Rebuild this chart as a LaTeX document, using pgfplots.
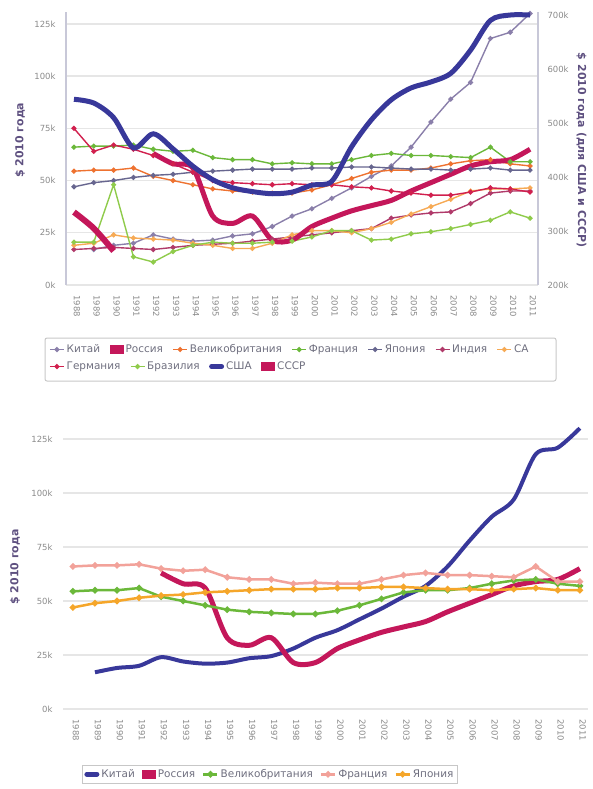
\documentclass[border=0pt]{standalone}
\usepackage{fontspec}
\setmainfont{DejaVu Sans}
\usepackage{pgfplots}
\usepackage{pgfplotstable}
\pgfplotsset{compat=1.18}

\definecolor{china}{HTML}{8A7FAA}
\definecolor{russia}{HTML}{C4175A}
\definecolor{uk}{HTML}{EE7230}
\definecolor{france}{HTML}{6BB83A}
\definecolor{japan}{HTML}{67668F}
\definecolor{india}{HTML}{B03A6A}
\definecolor{sa}{HTML}{F6AA55}
\definecolor{germany}{HTML}{D1204E}
\definecolor{brazil}{HTML}{8FCB4B}
\definecolor{usa}{HTML}{38389A}
\definecolor{pinkfr}{HTML}{F2A29A}
\definecolor{jporange}{HTML}{F5A62A}
\definecolor{gridc}{HTML}{E6E6E6}
\definecolor{axisc}{HTML}{C8C8D8}
\definecolor{labc}{HTML}{8A8A8A}
\definecolor{legc}{HTML}{6E6E7E}
\definecolor{titc}{HTML}{5E5080}

\newcommand\tickfont{\fontsize{8.5}{10}\selectfont}
\newcommand\legfont{\fontsize{10.5}{12}\selectfont}
\newcommand\labfont{\fontsize{11}{12}\selectfont\bfseries}

% values in thousands of 2010 dollars
\pgfplotstableread{
year china russia uk france japan india sa germany brazil
1988 nan nan 54.5 66 47 17 19 75 20.5
1989 17 nan 55 66.5 49 17.5 20 64 20.5
1990 19 nan 55 66.5 50 18 24 67 48
1991 20 nan 56 67 51.5 17.5 22.5 65 13.5
1992 24 63 52 65 52.5 17 22 62 11
1993 22 58 50 64 53 18 21.5 58 16
1994 21 56 48 64.5 54 19 20 54 19
1995 21.5 33 46 61 54.5 19.5 19 50 20.5
1996 23.5 29.5 45 60 55 20 17.5 49 20
1997 24.5 33 44.5 60 55.5 21 17.5 48.5 20
1998 28 21.5 44 58 55.5 22 20 48 20.5
1999 33 21.5 44 58.5 55.5 23 24 48.5 21
2000 36.5 28 45.5 58 56 24 26 48 23
2001 41.5 32 48 58 56 25 26 48 26
2002 46.5 35.5 51 60 56.5 26 25 47 26
2003 52 38 54 62 56.5 27 27 46.5 21.5
2004 57 40.5 55 63 56 32 30 45 22
2005 66 45 55 62 55.5 33.5 34 44 24.5
2006 78 49 56 62 55.5 34.5 37.5 43 25.5
2007 89 53 58 61.5 55 35 41 43 27
2008 97 57 59.5 61 55.5 39 45 44.5 29
2009 118 59 60 66 56 44 46 46.5 31
2010 121 60 58 59 55 45 46 46 35
2011 130 65 57 59 55 45 46.5 44.5 32
}\countries

\pgfplotstableread{
year usa ussr
1988 544 335
1989 537 305
1990 510 263
1991 454 nan
1992 480 nan
1993 452 nan
1994 420 nan
1995 395 nan
1996 380 nan
1997 373 nan
1998 369 nan
1999 372 nan
2000 385 nan
2001 392 nan
2002 456 nan
2003 506 nan
2004 543 nan
2005 565 nan
2006 576 nan
2007 592 nan
2008 635 nan
2009 690 nan
2010 700 nan
2011 700 nan
}\superpowers

\pgfplotsset{
  base/.style={
    scale only axis,
    major tick length=0pt,
    /pgf/number format/assume math mode=true,
    /pgf/number format/1000 sep={},
    ticklabel style={font=\tickfont, text=labc},
    xticklabel style={xshift=3bp, yshift=-7bp, rotate=-90, anchor=west},
    grid style={draw=gridc, line width=1.3bp},
    legend columns=-1,
    legend image code/.code={\draw[mark repeat=2,mark phase=2] plot coordinates {(0bp,0bp) (7bp,0bp) (14bp,0bp)};},
    /tikz/every even column/.append style={column sep=7.5bp},
  },
  thin/.style={line width=1.4bp, mark=*, mark size=1.8bp},
  block/.style={legend image code/.code={\path[fill=#1, draw=none, sharp corners] (0bp,-4.5bp) rectangle (14bp,4.5bp);}},
  blob/.style={legend image code/.code={\draw[#1, line width=5bp, line cap=round, sharp corners] (2bp,0bp) -- (12bp,0bp);}},
}

\begin{document}
\begin{tikzpicture}
\path[use as bounding box] (0bp,0bp) rectangle (593bp,-789bp);

% ---------- upper chart, left scale ----------
\begin{axis}[base,
  at={(66bp,-285bp)}, anchor=south west,
  width=472bp, height=273bp,
  xmin=1987.6, xmax=2011.4, ymin=0, ymax=130.7,
  xtick={1988,...,2011}, ytick={0,25,...,125},
  axis x line*=bottom, axis y line*=left,
  x axis line style={draw=none},
  y axis line style={draw=axisc, line width=1.5bp},
  ymajorgrids,
  yticklabel={\pgfmathprintnumber{\tick}k},
  yticklabel style={xshift=-7bp},
  ylabel={\$ 2010 года},
  ylabel style={font=\labfont, text=titc, at={(axis description cs:-0.0975,0.53)}, anchor=center},
  legend style={at={(axis description cs:-0.038,-0.207)}, anchor=north west,
    draw=none, fill=none, font=\color{legc}\legfont, inner sep=1bp},
]
\addplot[thin, china] table[x=year, y=china] {\countries};
\addlegendimage{russia, block=russia}
\addplot[thin, uk] table[x=year, y=uk] {\countries};
\addplot[thin, france] table[x=year, y=france] {\countries};
\addplot[thin, japan] table[x=year, y=japan] {\countries};
\addplot[thin, india] table[x=year, y=india] {\countries};
\addplot[thin, sa] table[x=year, y=sa] {\countries};
\addplot[thin, germany, forget plot] table[x=year, y=germany] {\countries};
\addplot[thin, brazil, forget plot] table[x=year, y=brazil] {\countries};
\addplot[russia, line width=5bp, smooth, forget plot] table[x=year, y=russia] {\countries};
\legend{Китай, Россия, Великобритания, Франция, Япония, Индия, СА}
\end{axis}

% ---------- upper chart, right scale (USA, USSR) ----------
\begin{axis}[base,
  at={(66bp,-285bp)}, anchor=south west,
  width=472bp, height=273bp,
  xmin=1987.6, xmax=2011.4, ymin=200, ymax=705.6,
  xtick=\empty, ytick={200,300,...,700},
  axis x line=none, axis y line*=right,
  y axis line style={draw=axisc, line width=1.5bp},
  yticklabel={\pgfmathprintnumber{\tick}k},
  yticklabel style={xshift=6bp},
  ylabel={\$ 2010 года (для США и СССР)},
  ylabel style={font=\labfont, text=titc, rotate=180, at={(axis description cs:1.092,0.494)}, anchor=center},
  legend style={at={(axis description cs:-0.038,-0.27)}, anchor=north west,
    draw=none, fill=none, font=\color{legc}\legfont, inner sep=1bp},
]
\addlegendimage{thin, germany}
\addlegendimage{thin, brazil}
\addplot[usa, line width=5bp, smooth, blob=usa] table[x=year, y=usa] {\superpowers};
\addplot[russia, line width=6bp, smooth, block=russia] table[x=year, y=ussr] {\superpowers};
\legend{Германия, Бразилия, США, СССР}
\end{axis}

\draw[draw=black!22, line width=1bp, rounded corners=2bp] (45bp,-338bp) rectangle (556bp,-381bp);

% ---------- lower chart ----------
\begin{axis}[base,
  at={(63bp,-709bp)}, anchor=south west,
  width=525bp, height=284bp,
  xmin=1987.55, xmax=2011.37, ymin=0, ymax=131.5,
  xtick={1988,...,2011}, ytick={0,25,...,125},
  axis x line*=bottom, axis y line*=left,
  axis line style={draw=none},
  ymajorgrids,
  yticklabel={\pgfmathprintnumber{\tick}k},
  yticklabel style={xshift=-7bp},
  ylabel={\$ 2010 года},
  ylabel style={font=\labfont, text=titc, at={(axis description cs:-0.0914,0.5)}, anchor=center},
  legend style={at={(axis description cs:0.036,-0.197)}, anchor=north west,
    draw=black!22, line width=1bp, fill=none, font=\color{legc}\legfont,
    inner sep=2bp, /tikz/every even column/.append style={column sep=5bp}},
]
\addplot[usa, line width=4bp, smooth, blob=usa] table[x=year, y=china] {\countries};
\addplot[russia, line width=5bp, smooth, block=russia] table[x=year, y=russia] {\countries};
\addplot[france, line width=2.5bp, mark=*, mark size=1.8bp] table[x=year, y=uk] {\countries};
\addplot[pinkfr, line width=2.5bp, mark=*, mark size=1.8bp] table[x=year, y=france] {\countries};
\addplot[jporange, line width=2.5bp, mark=*, mark size=1.8bp] table[x=year, y=japan] {\countries};
\legend{Китай, Россия, Великобритания, Франция, Япония}
\end{axis}
\end{tikzpicture}
\end{document}
